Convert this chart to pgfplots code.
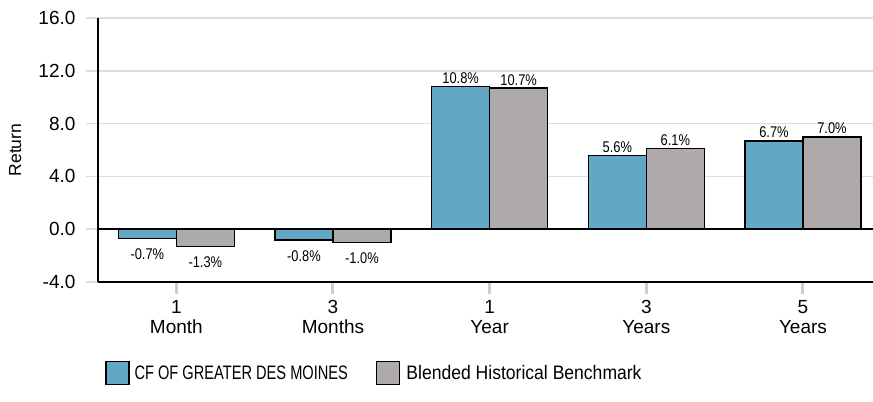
\documentclass[border=0pt]{standalone}
\usepackage{fontspec}
\setmainfont{Liberation Sans}
\newfontfamily\lblfont{Liberation Sans}[FakeStretch=0.83]
\newfontfamily\cffont{Liberation Sans}[FakeStretch=0.75]
\newfontfamily\blfont{Liberation Sans}[FakeStretch=0.90]
\usepackage{pgfplots}
\pgfplotsset{compat=1.18}
\definecolor{cfblue}{HTML}{62A7C5}
\definecolor{bgray}{HTML}{AEAAA9}
\definecolor{gridgray}{HTML}{DCDCDC}
\definecolor{tickgray}{HTML}{C8CDD0}
\pgfplotsset{
  sqlegend/.style={legend image code/.code={\draw[##1, draw=black, line width=1.5bp] (0bp,-11.5bp) rectangle (23bp,11.5bp);}},
}
\begin{document}
\begin{tikzpicture}
\useasboundingbox (0,0) rectangle (873bp,402bp);
\begin{axis}[
  at={(98bp,120bp)}, anchor=south west,
  scale only axis, width=775bp, height=264bp,
  xmin=-0.5, xmax=4.447, ymin=-4, ymax=16,
  ybar=0pt, bar width=0.37,
  axis lines*=left,
  axis line style={black, line width=1.5bp},
  ytick={-4,0,4,8,12,16},
  xtick={0,1,2,3,4},
  xticklabels={{1\\Month},{3\\Months},{1\\Year},{3\\Years},{5\\Years}},
  /pgf/number format/fixed,
  /pgf/number format/fixed zerofill,
  /pgf/number format/precision=1,
  /pgf/number format/assume math mode=true,
  tick align=outside,
  major tick length=12bp,
  ytick style={draw=gridgray, line width=1.5bp},
  xtick style={draw=tickgray, line width=3bp},
  ymajorgrids,
  grid style={gridgray, line width=1.5bp},
  yticklabel style={font=\fontsize{19bp}{20bp}\selectfont, xshift=-7bp},
  xticklabel style={align=center, font=\fontsize{19bp}{20bp}\selectfont, yshift=-3bp},
  ylabel={Return},
  ylabel style={at={(axis description cs:-0.107,0.5)}, anchor=center, font=\fontsize{17.5bp}{20bp}\selectfont},
  legend style={at={(axis description cs:0.005,-0.345)}, anchor=west, draw=none, fill=none,
    legend columns=2, font=\fontsize{19.5bp}{20bp}\selectfont,
    /tikz/every even column/.append style={column sep=26bp}},
  visualization depends on={y \as \yval},
  nodes near coords={\pgfmathprintnumber{\pgfplotspointmeta}\%},
  every node near coord/.append style={font=\lblfont\fontsize{15.5bp}{17bp}\selectfont, black, inner sep=2bp,
    yshift={(\yval<0)*(-8)}},
]
\draw[black, line width=1.5bp] (axis cs:-0.5,0) -- (axis cs:4.447,0);
\addplot[fill=cfblue, draw=black, line width=1.5bp, sqlegend]
  coordinates {(0,-0.7) (1,-0.8) (2,10.8) (3,5.6) (4,6.7)};
\addlegendentry{\hspace*{3bp}\cffont CF OF GREATER DES MOINES}
\addplot[fill=bgray, draw=black, line width=1.5bp, sqlegend]
  coordinates {(0,-1.3) (1,-1.0) (2,10.7) (3,6.1) (4,7.0)};
\addlegendentry{\hspace*{4bp}\blfont Blended Historical Benchmark}
\end{axis}
\end{tikzpicture}
\end{document}
